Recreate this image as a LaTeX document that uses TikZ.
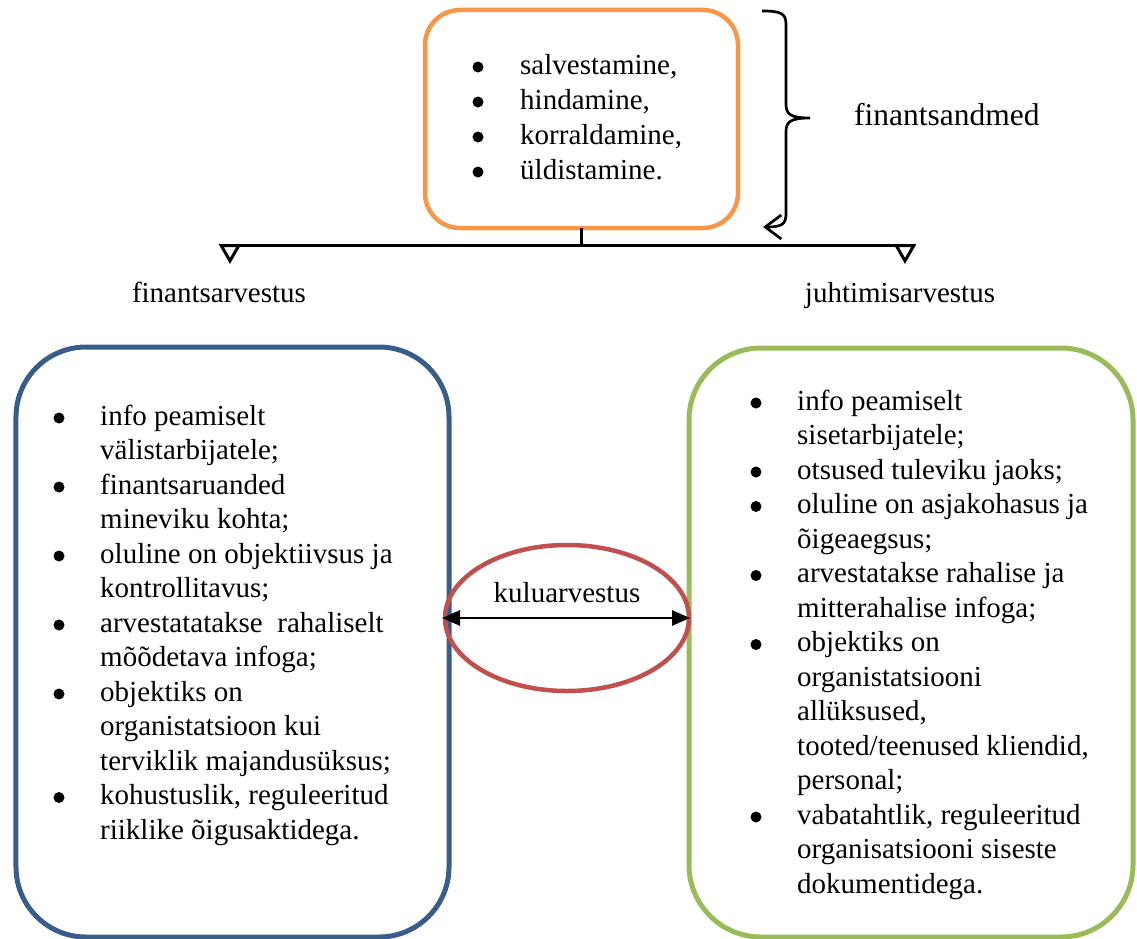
\documentclass[tikz,border=0pt]{standalone}
\usepackage{fontspec}
\setmainfont{Liberation Serif}
\usetikzlibrary{arrows.meta,shapes.geometric}

\definecolor{boxorange}{HTML}{F79646}
\definecolor{boxblue}{HTML}{385D8A}
\definecolor{ovalred}{HTML}{C0504D}
\definecolor{boxgreen}{HTML}{9BBB59}

\begin{document}
\begin{tikzpicture}[x=1bp,y=-1bp,
  panel/.style={draw, rectangle, inner sep=0pt, outer sep=0pt},
  listtext/.style={anchor=base west, inner sep=0pt, align=left,
    font=\fontsize{29bp}{34.5bp}\selectfont},
  label/.style={inner sep=0pt, font=\fontsize{29bp}{34.5bp}\selectfont},
  dot/.style={fill=black},
  link/.style={line width=3bp, -{Triangle[open, length=20bp, width=22bp]}},
  twoway/.style={line width=2.7bp, {Triangle[length=18bp, width=15bp]}-{Triangle[length=18bp, width=15bp]}},
  brace/.style={line width=2.7bp, -{Straight Barb[length=16bp, width=24bp]}}
]
\useasboundingbox (0,0) rectangle (1137,939);

% boxes
\node[panel, draw=boxorange, line width=4.5bp, rounded corners=35bp,
      minimum width=313bp, minimum height=218bp] (top) at (581.5,119) {};
\node[panel, draw=boxblue, line width=5bp, rounded corners=70bp,
      minimum width=433bp, minimum height=590bp] (fin) at (232.5,642) {};
\node[panel, draw=boxgreen, line width=5bp, rounded corners=72bp,
      minimum width=444bp, minimum height=589bp] (mgmt) at (911,642.5) {};
\node[ellipse, draw=ovalred, line width=4.5bp, inner sep=0pt,
      minimum width=244bp, minimum height=146bp] (cost) at (567,618) {};

% list in the top box
\node[listtext, font=\fontsize{29bp}{35bp}\selectfont] (toplist) at (520,74) {%
  \begin{tabular}[t]{@{}l@{}}
  salvestamine,\\
  hindamine,\\
  korraldamine,\\
  üldistamine.
  \end{tabular}};
\foreach \k in {0,1,2,3}
  \fill[dot] ([shift={(-42,{\k*35-7})}]toplist.base west) circle (5.5bp);

% list in the left box
\node[listtext] (finlist) at (100,425) {%
  \begin{tabular}[t]{@{}l@{}}
  info peamiselt\\
  välistarbijatele;\\
  finantsaruanded\\
  mineviku kohta;\\
  oluline on objektiivsus ja\\
  kontrollitavus;\\
  arvestatatakse~~rahaliselt\\
  mõõdetava infoga;\\
  objektiks on\\
  organistatsioon kui\\
  terviklik majandusüksus;\\
  kohustuslik, reguleeritud\\
  riiklike õigusaktidega.
  \end{tabular}};
\foreach \k in {0,2,4,6,8,11}
  \fill[dot] ([shift={(-41,{\k*34.5-7})}]finlist.base west) circle (5.5bp);

% list in the right box
\node[listtext] (mgmtlist) at (797,410) {%
  \begin{tabular}[t]{@{}l@{}}
  info peamiselt\\
  sisetarbijatele;\\
  otsused tuleviku jaoks;\\
  oluline on asjakohasus ja\\
  õigeaegsus;\\
  arvestatakse rahalise ja\\
  mitterahalise infoga;\\
  objektiks on\\
  organistatsiooni\\
  allüksused,\\
  tooted/teenused kliendid,\\
  personal;\\
  vabatahtlik, reguleeritud\\
  organisatsiooni siseste\\
  dokumentidega.
  \end{tabular}};
\foreach \k in {0,2,3,5,7,12}
  \fill[dot] ([shift={(-41,{\k*34.5-7})}]mgmtlist.base west) circle (5.5bp);

% labels
\node[label, anchor=base west, font=\fontsize{31.5bp}{36bp}\selectfont] (data) at (854,125) {finantsandmed};
\node[label, anchor=base] (finlabel) at (219,302) {finantsarvestus};
\node[label, anchor=base] (mgmtlabel) at (900,302) {juhtimisarvestus};
\node[label, anchor=base] (costlabel) at (567,602) {kuluarvestus};

% split connector from the top box
\coordinate (split) at (581.5,245);
\coordinate (tipL) at (230,264);
\coordinate (tipR) at (905,264);
\draw[link] (top.south) -- (split) -| (tipL);
\draw[link] (split) -| (tipR);

% two-way arrow through the oval
\coordinate (mid) at (0,618);
\draw[twoway] ([xshift=-7bp]fin.east |- mid) -- ([xshift=1bp]mgmt.west |- mid);

% brace beside the top box
\draw[brace] (762,11) .. controls (780,11) and (786,13) .. (786,24)
  -- (786,104) .. controls (786,114) and (790,118) .. (810,118)
  .. controls (790,118) and (786,122) .. (786,132)
  -- (786,214) .. controls (786,224) and (782,227) .. (763,227);
\end{tikzpicture}
\end{document}
